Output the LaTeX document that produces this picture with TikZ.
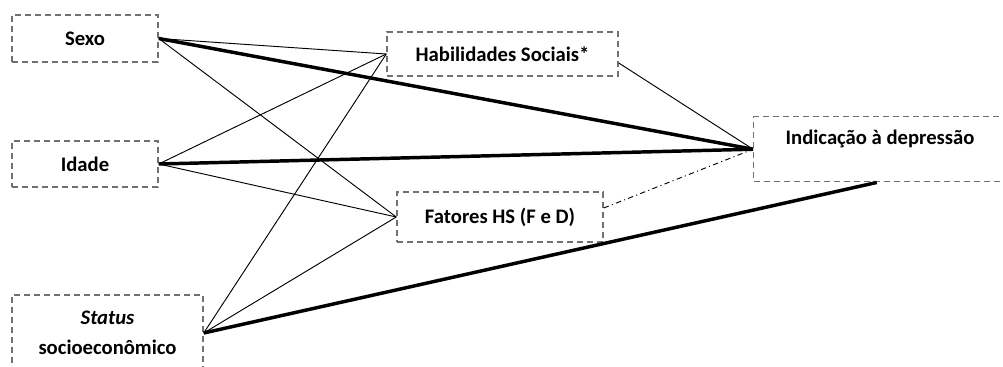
\documentclass[tikz,border=0pt]{standalone}
\usepackage{fontspec}
\setmainfont{Carlito}
\usetikzlibrary{calc}

\tikzset{
  caixa/.style={draw={rgb,255:red,112;green,112;blue,112}, dash pattern=on 4.5pt off 3pt,
    line width=1.1pt, inner sep=0pt, align=center, font=\fontsize{15.5}{22.5}\selectfont\bfseries},
  fino/.style={line width=0.7pt},
  grosso/.style={line width=2.6pt},
  tracoponto/.style={line width=0.7pt, dash pattern=on 4pt off 2.5pt on 0.8pt off 2.5pt}
}

\begin{document}
\begin{tikzpicture}[x=0.75pt,y=0.75pt,yscale=-1,xscale=1]
\useasboundingbox (0,0) rectangle (1003,367);

% boxes
\node [caixa, minimum width=109.5pt, minimum height=35.25pt] (sexo) at (85,38.5) {Sexo};
\node [caixa, minimum width=109.5pt, minimum height=34.5pt] (idade) at (85,164) {Idade};
\node [caixa, minimum width=143.25pt, minimum height=57pt] (status) at (107.5,333) {\textit{Status}\\socioeconômico};
\node [caixa, minimum width=173.25pt, minimum height=33pt] (hab) at (502.5,54) {Habilidades Sociais*};
\node [caixa, minimum width=154.5pt, minimum height=37.5pt] (fat) at (500,217) {Fatores HS (F e D)};
\node [caixa, minimum width=202.5pt, text height=21pt, text depth=27.75pt, anchor=north west] (ind) at (753,116) {Indicação à depressão\hspace*{13pt}};

% Sexo
\draw [fino] (sexo.east) -- (hab.west);
\draw [fino] (sexo.east) -- (fat.west);
\draw [grosso] (sexo.east) -- (ind.west);
% Idade
\draw [fino] (idade.east) -- (hab.west);
\draw [fino] (idade.east) -- (fat.west);
\draw [grosso] (idade.east) -- (ind.west);
% Status
\draw [fino] (status.east) -- (hab.west);
\draw [fino] (status.east) -- (fat.west);
\draw [grosso] (status.east) -- ($(ind.south)+(-12,0)$);
% mediadores
\draw [fino] ($(hab.east)+(0,9)$) -- (ind.west);
\draw [tracoponto] ($(fat.east)+(0,-9)$) -- (ind.west);

\end{tikzpicture}
\end{document}
